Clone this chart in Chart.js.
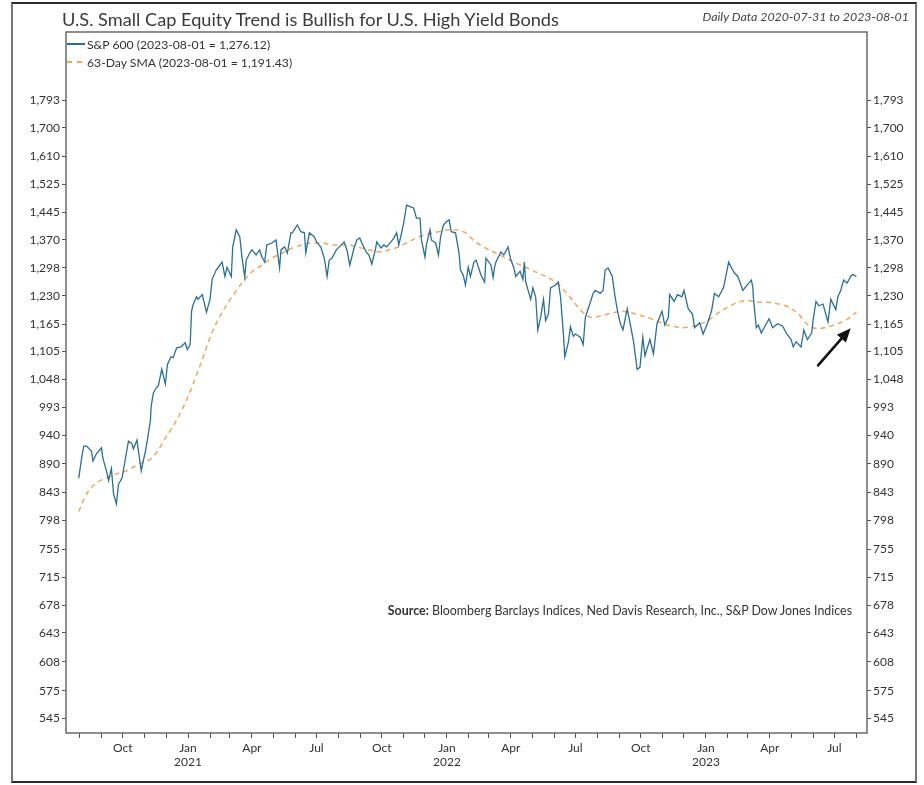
<!DOCTYPE html>
<html>
<head>
<meta charset="utf-8">
<script src="https://cdn.jsdelivr.net/npm/chart.js@4.4.1/dist/chart.umd.min.js"></script>
<style>
  body { margin: 0; background: #fff; }
  #wrap { position: relative; width: 924px; height: 785px; font-family: Lato, "Open Sans", sans-serif; color: #333; }
  #frame { position: absolute; left: 11px; top: 2px; width: 902px; height: 777px; border: 2px solid #2a2a2a; border-left-color: #777; border-right-color: #777; box-sizing: content-box; }
  #title { position: absolute; left: 62px; top: 8px; font-size: 18.2px; line-height: 22px; color: #3a3a3a; white-space: nowrap; }
  #note { position: absolute; right: 15px; top: 9px; font-size: 12.4px; line-height: 15px; font-style: italic; color: #444; white-space: nowrap; }
  #legend { position: absolute; left: 67px; top: 35px; font-size: 12.2px; color: #333; }
  .li { display: flex; align-items: center; height: 18px; white-space: nowrap; }
  .sw { display: inline-block; width: 18px; height: 1.5px; margin-right: 2px; }
  #source { position: absolute; right: 72px; top: 603px; font-size: 12.4px; line-height: 15px; color: #333; white-space: nowrap; }
  canvas { position: absolute; left: 0; top: 0; }
</style>
</head>
<body>
<div id="wrap">
  <canvas id="c" width="924" height="785"></canvas>
  <div id="frame"></div>
  <div id="title">U.S. Small Cap Equity Trend is Bullish for U.S. High Yield Bonds</div>
  <div id="note">Daily Data 2020-07-31 to 2023-08-01</div>
  <div id="legend">
    <div class="li"><span class="sw" style="background:#2a6f98"></span>S&amp;P 600 (2023-08-01 = 1,276.12)</div>
    <div class="li"><span class="sw" style="background:repeating-linear-gradient(90deg,#f2a65a 0 5px,transparent 5px 10px)"></span>63-Day SMA (2023-08-01 = 1,191.43)</div>
  </div>
  <div id="source"><b>Source:</b> Bloomberg Barclays Indices, Ned Davis Research, Inc., S&amp;P Dow Jones Indices</div>
</div>
<script>
// ---------- data ----------
const spDates = [
 "2020-07-31","2020-08-04","2020-08-07","2020-08-11","2020-08-18","2020-08-20","2020-08-25","2020-09-01","2020-09-03","2020-09-08",
 "2020-09-11","2020-09-15","2020-09-18","2020-09-22","2020-09-25","2020-09-30","2020-10-06","2020-10-09","2020-10-14","2020-10-16",
 "2020-10-21","2020-10-27","2020-10-29","2020-11-02","2020-11-05","2020-11-09","2020-11-10","2020-11-13","2020-11-17","2020-11-20",
 "2020-11-25","2020-11-30","2020-12-03","2020-12-08","2020-12-11","2020-12-16","2020-12-22","2020-12-28","2020-12-31","2021-01-04",
 "2021-01-06","2021-01-08","2021-01-13","2021-01-15","2021-01-21","2021-01-27","2021-02-01","2021-02-04","2021-02-10","2021-02-12",
 "2021-02-18","2021-02-22","2021-02-25","2021-03-03","2021-03-05","2021-03-10","2021-03-15","2021-03-18","2021-03-22","2021-03-24",
 "2021-03-29","2021-04-01","2021-04-07","2021-04-12","2021-04-15","2021-04-19","2021-04-22","2021-04-29","2021-05-05","2021-05-10",
 "2021-05-12","2021-05-17","2021-05-21","2021-05-26","2021-05-28","2021-06-04","2021-06-09","2021-06-14","2021-06-16","2021-06-21",
 "2021-06-28","2021-07-02","2021-07-07","2021-07-12","2021-07-16","2021-07-19","2021-07-23","2021-07-29","2021-08-05","2021-08-09",
 "2021-08-13","2021-08-17","2021-08-23","2021-08-27","2021-08-31","2021-09-03","2021-09-09","2021-09-13","2021-09-17","2021-09-22",
 "2021-09-24","2021-09-30","2021-10-04","2021-10-08","2021-10-14","2021-10-18","2021-10-22","2021-10-25","2021-10-29","2021-11-01",
 "2021-11-05","2021-11-11","2021-11-15","2021-11-19","2021-11-24","2021-11-26","2021-12-01","2021-12-03","2021-12-08","2021-12-10",
 "2021-12-16","2021-12-20","2021-12-23","2021-12-27","2021-12-31","2022-01-04","2022-01-07","2022-01-13","2022-01-18","2022-01-20",
 "2022-01-24","2022-01-27","2022-01-31","2022-02-03","2022-02-08","2022-02-11","2022-02-18","2022-02-23","2022-02-25","2022-03-04",
 "2022-03-07","2022-03-09","2022-03-11","2022-03-18","2022-03-22","2022-03-28","2022-04-01","2022-04-05","2022-04-08","2022-04-14",
 "2022-04-18","2022-04-20","2022-04-22","2022-04-29","2022-05-02","2022-05-06","2022-05-09","2022-05-13","2022-05-17","2022-05-20",
 "2022-05-24","2022-05-27","2022-06-03","2022-06-07","2022-06-10","2022-06-14","2022-06-16","2022-06-21","2022-06-24","2022-06-28",
 "2022-07-01","2022-07-08","2022-07-12","2022-07-15","2022-07-22","2022-07-26","2022-07-29","2022-08-05","2022-08-09","2022-08-12",
 "2022-08-16","2022-08-22","2022-08-25","2022-08-29","2022-09-02","2022-09-06","2022-09-12","2022-09-16","2022-09-21","2022-09-26",
 "2022-09-30","2022-10-04","2022-10-07","2022-10-14","2022-10-19","2022-10-24","2022-10-31","2022-11-04","2022-11-09","2022-11-11",
 "2022-11-17","2022-11-22","2022-11-28","2022-12-01","2022-12-07","2022-12-13","2022-12-16","2022-12-23","2022-12-28","2023-01-03",
 "2023-01-09","2023-01-13","2023-01-19","2023-01-26","2023-02-02","2023-02-06","2023-02-10","2023-02-15","2023-02-22","2023-02-28",
 "2023-03-06","2023-03-08","2023-03-09","2023-03-13","2023-03-16","2023-03-20","2023-03-24","2023-03-31","2023-04-05","2023-04-12",
 "2023-04-19","2023-04-25","2023-05-01","2023-05-04","2023-05-08","2023-05-15","2023-05-19","2023-05-24","2023-05-30","2023-06-01",
 "2023-06-05","2023-06-09","2023-06-15","2023-06-22","2023-06-26","2023-07-03","2023-07-06","2023-07-10","2023-07-14","2023-07-19",
 "2023-07-24","2023-07-27","2023-08-01"
];
const spValues = [
 866,900,921,921,912,895,908,918,900,878,
 862,882,840,824,856,866,908,930,925,916,
 932,878,890,912,934,968,994,1020,1030,1034,
 1068,1038,1078,1094,1092,1113,1115,1124,1109,1120,
 1194,1209,1228,1222,1233,1192,1222,1270,1294,1298,
 1313,1277,1300,1277,1352,1397,1378,1325,1275,1318,
 1336,1344,1331,1344,1326,1313,1357,1362,1370,1298,
 1344,1352,1336,1389,1389,1410,1392,1389,1336,1389,
 1378,1362,1352,1323,1277,1318,1323,1344,1357,1365,
 1344,1305,1349,1370,1375,1362,1339,1331,1308,1344,
 1365,1349,1357,1352,1365,1375,1389,1357,1389,1416,
 1465,1460,1457,1429,1429,1370,1326,1357,1397,1370,
 1362,1331,1378,1410,1419,1424,1392,1389,1336,1293,
 1280,1256,1300,1277,1313,1318,1280,1263,1323,1305,
 1275,1300,1313,1339,1331,1352,1318,1300,1277,1290,
 1270,1313,1263,1222,1249,1228,1152,1180,1222,1173,
 1188,1249,1256,1263,1228,1145,1094,1124,1159,1138,
 1143,1136,1120,1180,1215,1236,1243,1236,1243,1293,
 1298,1277,1238,1198,1168,1152,1200,1168,1126,1068,
 1072,1136,1096,1131,1100,1166,1194,1163,1180,1233,
 1217,1233,1228,1243,1200,1188,1157,1168,1143,1166,
 1196,1236,1228,1251,1313,1298,1286,1277,1243,1256,
 1268,1251,1224,1157,1163,1145,1157,1177,1157,1166,
 1161,1143,1131,1115,1126,1115,1152,1131,1145,1173,
 1217,1207,1211,1170,1222,1198,1228,1243,1268,1261,
 1277,1282,1276.12
];
const smaDates = [
 "2020-07-31","2020-08-11","2020-08-25","2020-09-08","2020-09-22","2020-10-06","2020-10-24","2020-11-11","2020-11-21","2020-12-01",
 "2020-12-10","2020-12-24","2021-01-07","2021-01-21","2021-02-04","2021-02-18","2021-03-04","2021-03-18","2021-04-01","2021-04-15",
 "2021-04-29","2021-05-14","2021-05-28","2021-06-11","2021-06-25","2021-07-09","2021-07-23","2021-08-12","2021-08-27","2021-09-13",
 "2021-09-27","2021-10-11","2021-10-25","2021-11-08","2021-11-22","2021-12-06","2021-12-20","2022-01-03","2022-01-13","2022-01-27",
 "2022-02-10","2022-02-24","2022-03-11","2022-03-25","2022-04-08","2022-04-22","2022-05-06","2022-05-20","2022-06-03","2022-06-11",
 "2022-06-25","2022-07-10","2022-07-24","2022-08-07","2022-08-21","2022-09-05","2022-09-19","2022-10-02","2022-10-16","2022-10-30",
 "2022-11-13","2022-11-27","2022-12-11","2022-12-25","2023-01-04","2023-01-18","2023-02-01","2023-02-15","2023-03-01","2023-03-16",
 "2023-03-30","2023-04-13","2023-04-27","2023-05-11","2023-05-25","2023-06-08","2023-06-22","2023-07-06","2023-07-20","2023-08-01"
];
const smaValues = [
 812,840,858,866,873,878,890,900,916,937,
 955,989,1034,1088,1147,1192,1228,1261,1288,1305,
 1323,1336,1349,1357,1362,1362,1357,1357,1352,1344,
 1339,1344,1352,1365,1378,1386,1392,1397,1397,1389,
 1365,1349,1336,1323,1310,1300,1288,1277,1263,1251,
 1224,1194,1180,1184,1190,1194,1190,1184,1177,1168,
 1161,1157,1159,1166,1173,1190,1204,1215,1219,1215,
 1215,1211,1204,1188,1163,1155,1159,1166,1177,1191.43
];
const yTicks = [545,575,608,643,678,715,755,798,843,890,940,993,1048,1105,1165,1230,1298,1370,1445,1525,1610,1700,1793];
const monthNames = ["Jan","Feb","Mar","Apr","May","Jun","Jul","Aug","Sep","Oct","Nov","Dec"];
const quarterMonths = [0,3,6,9];
const xRange = ["2020-07-13","2023-08-16"];
const yRange = [530, 2045];
// arrow annotation: [date, value] tail -> head
const arrowTail = ["2023-06-08", 1076];
const arrowHead = ["2023-07-24", 1156];

// ---------- helpers ----------
function dayNum(s){ const p = s.split('-').map(Number); return Date.UTC(p[0], p[1]-1, p[2]) / 86400000; }
function fmt(v){ return String(v).replace(/\B(?=(\d{3})+(?!\d))/g, ','); }

const xMin = dayNum(xRange[0]), xMax = dayNum(xRange[1]);
const monthTicks = [];
{
  const d0 = new Date(xMin * 86400000);
  let y = d0.getUTCFullYear(), m = d0.getUTCMonth() + 1;
  while (true) {
    const v = Date.UTC(y, m, 1) / 86400000;
    if (v > xMax) break;
    monthTicks.push(v);
    m++; if (m > 11) { m = 0; y++; }
  }
}

const framePlugin = {
  id: 'frame',
  afterDatasetsDraw(chart) {
    const {ctx, chartArea: a, scales} = chart;
    ctx.save();
    ctx.strokeStyle = '#6a6a6a';
    ctx.lineWidth = 1.5;
    ctx.strokeRect(a.left, a.top, a.right - a.left, a.bottom - a.top);
    // arrow annotation
    const x1 = scales.x.getPixelForValue(dayNum(arrowTail[0])), y1 = scales.y.getPixelForValue(arrowTail[1]);
    const x2 = scales.x.getPixelForValue(dayNum(arrowHead[0])), y2 = scales.y.getPixelForValue(arrowHead[1]);
    const ang = Math.atan2(y2 - y1, x2 - x1);
    const hl = 14, hw = 6;
    const bx = x2 - hl * Math.cos(ang), by = y2 - hl * Math.sin(ang);
    ctx.strokeStyle = '#111'; ctx.fillStyle = '#111'; ctx.lineWidth = 2.6; ctx.lineCap = 'round';
    ctx.beginPath(); ctx.moveTo(x1, y1); ctx.lineTo(bx, by); ctx.stroke();
    ctx.beginPath();
    ctx.moveTo(x2, y2);
    ctx.lineTo(bx + hw * Math.sin(ang), by - hw * Math.cos(ang));
    ctx.lineTo(bx - hw * Math.sin(ang), by + hw * Math.cos(ang));
    ctx.closePath(); ctx.fill();
    ctx.restore();
  }
};

const tickFont = { family: 'Lato, "Open Sans", sans-serif', size: 12 };
function yAxis(position, width) {
  return {
    type: 'logarithmic', position, min: yRange[0], max: yRange[1],
    afterBuildTicks(s) { s.ticks = yTicks.map(v => ({ value: v })); },
    afterFit(s) { s.width = width; },
    ticks: { autoSkip: false, color: '#333', font: tickFont, padding: 2, callback: v => fmt(v) },
    grid: { drawOnChartArea: false, drawTicks: true, tickLength: 4, tickColor: '#555', tickWidth: 1 },
    border: { display: false }
  };
}

new Chart(document.getElementById('c'), {
  type: 'line',
  data: {
    datasets: [
      { label: 'S&P 600', data: spDates.map((d, i) => ({ x: dayNum(d), y: spValues[i] })),
        borderColor: '#2a6f98', borderWidth: 1.3, pointRadius: 0, tension: 0, yAxisID: 'y' },
      { label: '63-Day SMA', data: smaDates.map((d, i) => ({ x: dayNum(d), y: smaValues[i] })),
        borderColor: '#f2a65a', borderWidth: 1.5, borderDash: [5, 4], pointRadius: 0, tension: 0.4, cubicInterpolationMode: 'monotone', yAxisID: 'y' }
    ]
  },
  options: {
    responsive: false, animation: false, devicePixelRatio: 1,
    layout: { padding: { left: 14, right: 12, top: 32, bottom: 12 } },
    plugins: { legend: { display: false }, tooltip: { enabled: false }, title: { display: false } },
    scales: {
      x: {
        type: 'linear', min: xMin, max: xMax,
        afterBuildTicks(s) { s.ticks = monthTicks.map(v => ({ value: v })); },
        afterFit(s) { s.height = 40; },
        ticks: {
          autoSkip: false, maxRotation: 0, color: '#333', font: tickFont, padding: 3,
          callback: (v) => {
            const d = new Date(v * 86400000); const m = d.getUTCMonth();
            if (quarterMonths.indexOf(m) < 0) return '';
            return m === 0 ? [monthNames[m], String(d.getUTCFullYear())] : monthNames[m];
          }
        },
        grid: { drawOnChartArea: false, drawTicks: true, tickLength: 5, tickColor: '#555' },
        border: { display: false }
      },
      y: yAxis('left', 52),
      y2: yAxis('right', 45)
    }
  },
  plugins: [framePlugin]
});
</script>
</body>
</html>
